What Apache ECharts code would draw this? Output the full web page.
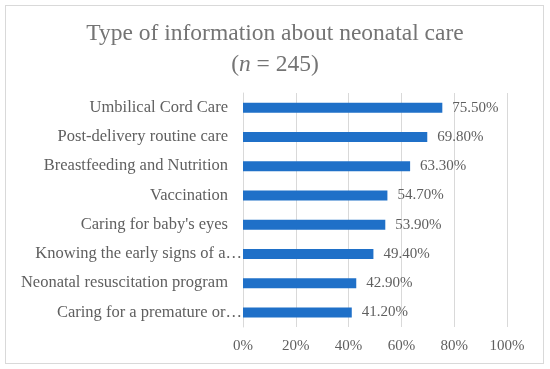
<!DOCTYPE html>
<html>
<head>
<meta charset="utf-8">
<script src="https://cdn.jsdelivr.net/npm/echarts@6/dist/echarts.min.js"></script>
<style>
html,body{margin:0;padding:0;background:#fff;}
#frame{position:absolute;left:5px;top:5px;width:537px;height:357px;border:1px solid #d9d9d9;}
#chart{position:absolute;left:0;top:0;width:550px;height:369px;}
</style>
</head>
<body>
<div id="frame"></div>
<div id="chart"></div>
<script>
const categories = [
  "Umbilical Cord Care",
  "Post-delivery routine care",
  "Breastfeeding and Nutrition",
  "Vaccination",
  "Caring for baby's eyes",
  "Knowing the early signs of a…",
  "Neonatal resuscitation program",
  "Caring for a premature or…"
];
const values = [0.755, 0.698, 0.633, 0.547, 0.539, 0.494, 0.429, 0.412];
const xTicks = [0, 0.2, 0.4, 0.6, 0.8, 1.0];

const font = "'Liberation Serif', 'Times New Roman', serif";
const textColor = '#5f5f5f';
const chart = echarts.init(document.getElementById('chart'), null, {renderer: 'canvas'});
chart.setOption({
  backgroundColor: 'transparent',
  animation: false,
  title: {
    text: 'Type of information about neonatal care\n{p|(}{i|n}{p| = 245)}',
    left: 'center',
    top: 18,
    padding: 0,
    textStyle: {
      fontFamily: font,
      fontSize: 23.5,
      fontWeight: 'normal',
      color: '#747474',
      lineHeight: 31,
      rich: {
        p: {fontFamily: font, fontSize: 23.5, color: '#747474', lineHeight: 31},
        i: {fontFamily: font, fontSize: 23.5, color: '#747474', lineHeight: 31, fontStyle: 'italic'}
      }
    }
  },
  grid: {left: 243, right: 43, top: 93, bottom: 42, containLabel: false},
  xAxis: {
    type: 'value',
    min: xTicks[0],
    max: xTicks[xTicks.length - 1],
    interval: 0.2,
    axisLine: {show: false},
    axisTick: {show: false},
    splitLine: {show: true, lineStyle: {color: '#d9d9d9', width: 1}},
    axisLabel: {
      fontFamily: font, fontSize: 15, color: textColor, margin: 12,
      formatter: v => Math.round(v * 100) + '%'
    }
  },
  yAxis: {
    type: 'category',
    data: categories,
    inverse: true,
    axisLine: {show: true, lineStyle: {color: '#d9d9d9', width: 1}},
    axisTick: {show: false},
    axisLabel: {
      margin: 1,
      fontFamily: font, fontSize: 16.5, color: textColor,
      formatter: v => v.endsWith('…') ? '{e|' + v + '}' : '{n|' + v + '}',
      rich: {
        n: {fontFamily: font, fontSize: 16.5, color: textColor, padding: [0, 14, 0, 0]},
        e: {fontFamily: font, fontSize: 16.5, color: textColor, padding: [0, 0, 0, 0]}
      }
    }
  },
  series: [{
    type: 'bar',
    data: values,
    barWidth: 10,
    itemStyle: {color: '#1f70c8'},
    label: {
      show: true,
      position: 'right',
      distance: 10,
      fontFamily: font,
      fontSize: 15,
      color: textColor,
      formatter: p => (p.value * 100).toFixed(2) + '%'
    }
  }]
});
</script>
</body>
</html>
